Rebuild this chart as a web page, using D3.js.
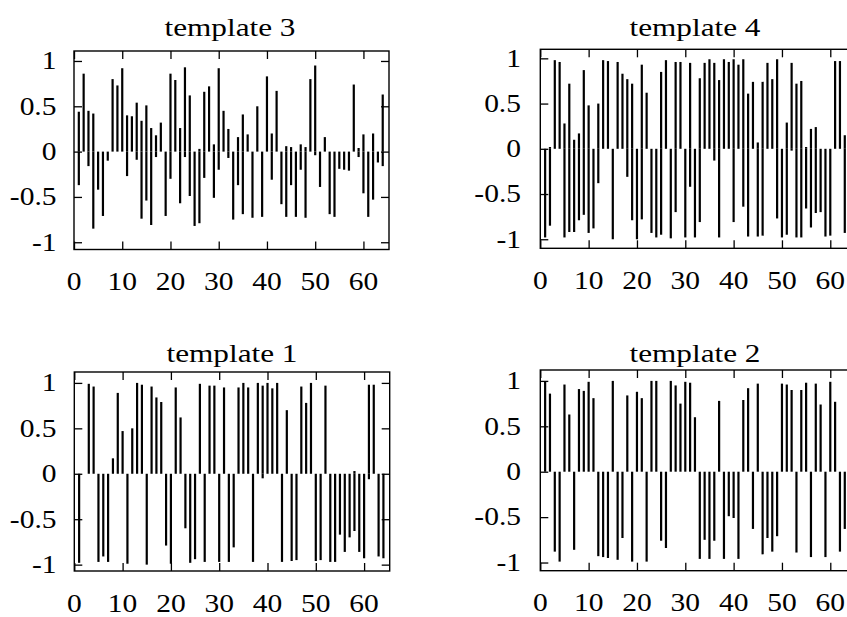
<!DOCTYPE html>
<html>
<head>
<meta charset="utf-8">
<script src="https://cdn.jsdelivr.net/npm/d3@7/dist/d3.min.js"></script>
<style>
  html, body { margin: 0; padding: 0; background: #fff; }
  svg { display: block; }
</style>
</head>
<body>
<svg id="chart" width="847" height="617"></svg>
<script>
// ---- data (index k = 1..n) ----
const xTickValues = [0, 10, 20, 30, 40, 50, 60];
const xTickLabels = ["0", "10", "20", "30", "40", "50", "60"];
const yTickValues = [1, 0.5, 0, -0.5, -1];
const yTickLabels = ["1", "0.5", "0", "-0.5", "-1"];
const titles = ["template 3", "template 4", "template 1", "template 2"];

// each template: upper impulse series and lower impulse series
const template3Upper = [0.44,0.86,0.45,0.42,0,0,0,0.8,0.73,0.92,0.4,0.39,0.54,0.34,0.51,0.26,0.18,0.32,0,0.86,0.79,0.26,0.93,0.62,0,0.03,0.66,0.72,0.08,0.92,0.45,0.25,0,0.16,0.41,0.19,0,0.5,0,0.83,0.2,0.67,0,0.06,0.05,0,0.08,0.05,0.8,0.95,0,0.16,0,0,0,0,0,0.74,0.04,0.19,0,0.2,0,0.63];
const template3Lower = [-0.37,0,-0.16,-0.85,-0.42,-0.71,-0.1,0,0,0,-0.27,0,-0.09,-0.74,-0.54,-0.81,-0.06,0,-0.71,-0.3,0,-0.57,-0.06,-0.49,-0.82,-0.79,-0.29,0,-0.51,-0.2,0,-0.07,-0.75,-0.37,-0.69,0,-0.73,0,-0.72,0,-0.31,0,-0.58,-0.72,-0.37,-0.72,-0.2,-0.73,0,-0.04,-0.39,0,-0.69,-0.72,-0.19,-0.2,-0.21,0,-0.06,-0.46,-0.72,-0.53,-0.12,-0.16];

const template4Upper = [0,0.02,0.98,0.96,0.28,0.72,0.1,0.17,0.87,0.48,0,0.5,0.98,0.97,0,0.96,0.83,0.77,0.72,0,0.93,0.62,0,0,0.85,0.98,0,0.96,0.96,0,0.95,0,0.78,0.95,0.99,0.95,0.76,0.99,0.96,0.99,0.93,0.99,0.61,0.74,0.07,0.74,0.95,0.77,0.99,0,0.29,0.95,0.72,0.75,0.02,0.22,0.24,0,0,0,0.97,0.97,0.15];
const template4Lower = [-0.98,-0.85,0,0,-0.98,-0.92,-0.92,-0.79,-0.73,-0.93,-0.88,-0.38,0,0,-1.0,0,0,-0.31,-0.79,-1.0,-0.78,0,-0.93,-0.98,-0.95,0,-0.99,-0.7,0,-0.98,-0.42,-0.98,-0.81,0,0,-0.13,-0.98,0,0,-0.81,0,-0.64,-0.97,0,-0.97,-0.96,0,0,-0.77,-0.98,-0.95,-0.02,-0.98,-0.98,-0.66,-0.87,-0.71,-0.7,-0.97,-0.96,0,0,-0.93];

const template1Upper = [0,0,0.99,0.96,0,0,0,0.17,0.89,0.47,0,0.5,1.0,0.98,0,0.96,0.84,0.79,0,0,0.95,0.62,0,0,0,0.99,0,0.97,0.97,0,0.95,0,0,0.95,1.0,0.95,0,1.0,0.97,1.0,0.94,1.0,0,0.7,0,0,0.96,0.78,1.0,0,0,0.97,0,0,0,0,0,0.03,0,0,0.98,0.98,0,0];
const template1Lower = [-0.98,0,0,0,-0.97,-0.91,-0.97,0,0,0,-0.99,0,0,0,-1.0,0,0,0,-0.79,-0.99,0,0,-0.6,-0.98,-0.94,0,-0.97,0,0,-0.97,0,-0.97,-0.81,0,0,0,-0.97,0,-0.05,0,0,0,-0.97,0,-0.96,-0.95,0,0,0,-0.96,-0.95,0,-0.97,-0.97,-0.67,-0.86,-0.7,-0.63,-0.86,-0.93,-0.06,0,-0.91,-0.93];

const template2Upper = [0.99,0.86,0,0,0.96,0.63,0,0.91,0.89,0.99,0.81,0,0,0,1.0,0,0,0.84,0,0.88,0.81,0,1.0,1.0,0,0,1.0,0.95,0.75,0.99,0.98,0.6,0,0,0,0,0.78,0,0,0,0,0.79,0.92,0,0.97,0,0,0,0,0.97,0.96,0.9,0,0.9,0.98,0,0.97,0.74,0,0.99,0.77,0,0];
const template2Lower = [0,0,-0.88,-0.99,0,0,-0.86,0,0,0,0,-0.93,-0.94,-0.95,0,-0.97,-0.73,0,-0.99,0,0,-0.99,0,0,-0.76,-0.84,0,0,0,0,0,0,-0.96,-0.75,-0.96,-0.76,0,-0.96,-0.49,-0.51,-0.96,0,0,-0.63,0,-0.91,-0.73,-0.88,-0.71,0,0,0,-0.89,0,0,-0.94,0,0,-0.94,0,0,-0.88,-0.63];

// ---- layout ----
const panels = [
  { title: titles[0], upper: template3Upper, lower: template3Lower,
    xr: [74, 389], yd: [-1.08, 1.11], yr: [249.5, 51], titleX: 230, titleY: 36, ylabX: 56.5 },
  { title: titles[1], upper: template4Upper, lower: template4Lower,
    xr: [540.3, 855.9], yd: [-1.1, 1.1], yr: [248.3, 49.3], titleX: 695, titleY: 36, ylabX: 521 },
  { title: titles[2], upper: template1Upper, lower: template1Lower,
    xr: [74.3, 389.7], yd: [-1.07, 1.12], yr: [571, 372], titleX: 232, titleY: 362, ylabX: 56.5 },
  { title: titles[3], upper: template2Upper, lower: template2Lower,
    xr: [540.3, 855.9], yd: [-1.09, 1.12], yr: [570.7, 370], titleX: 695, titleY: 362, ylabX: 521 }
];

const svg = d3.select("#chart");
const FONT = "'Liberation Serif', 'Times New Roman', serif";
const TICK = 8;

panels.forEach(p => {
  const x = d3.scaleLinear().domain([0, 65.3]).range(p.xr);
  const y = d3.scaleLinear().domain(p.yd).range(p.yr);
  const g = svg.append("g");
  const [l, r] = p.xr;
  const b = p.yr[0], t = p.yr[1];

  // impulses
  const ks = d3.range(1, p.upper.length + 1);
  const drawSeries = vals => {
    g.append("g").selectAll("line").data(vals).join("line")
      .attr("x1", (d, i) => x(ks[i])).attr("x2", (d, i) => x(ks[i]))
      .attr("y1", y(0)).attr("y2", d => y(d))
      .attr("stroke", "#000").attr("stroke-width", 2.2);
  };
  drawSeries(p.upper);
  drawSeries(p.lower);

  // axes (inward ticks on all sides)
  const axB = g.append("g").attr("transform", `translate(0,${b})`)
    .call(d3.axisBottom(x).tickValues(xTickValues).tickSize(-TICK).tickFormat(""));
  const axT = g.append("g").attr("transform", `translate(0,${t})`)
    .call(d3.axisTop(x).tickValues(xTickValues).tickSize(-TICK).tickFormat(""));
  const axL = g.append("g").attr("transform", `translate(${l},0)`)
    .call(d3.axisLeft(y).tickValues(yTickValues).tickSize(-TICK).tickFormat(""));
  const axR = g.append("g").attr("transform", `translate(${r},0)`)
    .call(d3.axisRight(y).tickValues(yTickValues).tickSize(-TICK).tickFormat(""));
  [axB, axT, axL, axR].forEach(a => {
    a.select(".domain").remove();
    a.selectAll("line").attr("stroke", "#000").attr("stroke-width", 1.3);
  });

  // frame
  g.append("rect").attr("x", l).attr("y", t).attr("width", r - l).attr("height", b - t)
    .attr("fill", "none").attr("stroke", "#000").attr("stroke-width", 1.4);

  // x tick labels
  g.append("g").selectAll("text").data(xTickValues).join("text")
    .attr("transform", d => `translate(${x(d)},${b + 40.5}) scale(1.18,1)`)
    .attr("text-anchor", "middle")
    .attr("font-family", FONT).attr("font-size", 25).attr("fill", "#000")
    .text((d, i) => xTickLabels[i]);

  // y tick labels
  g.append("g").selectAll("text").data(yTickValues).join("text")
    .attr("transform", d => `translate(${p.ylabX},${y(d) + 8.3}) scale(1.18,1)`)
    .attr("text-anchor", "end")
    .attr("font-family", FONT).attr("font-size", 25).attr("fill", "#000")
    .text((d, i) => yTickLabels[i]);

  // title
  g.append("text")
    .attr("transform", `translate(${p.titleX},${p.titleY}) scale(1.25,1)`)
    .attr("text-anchor", "middle")
    .attr("font-family", FONT).attr("font-size", 25).attr("fill", "#000")
    .text(p.title);
});
</script>
</body>
</html>
